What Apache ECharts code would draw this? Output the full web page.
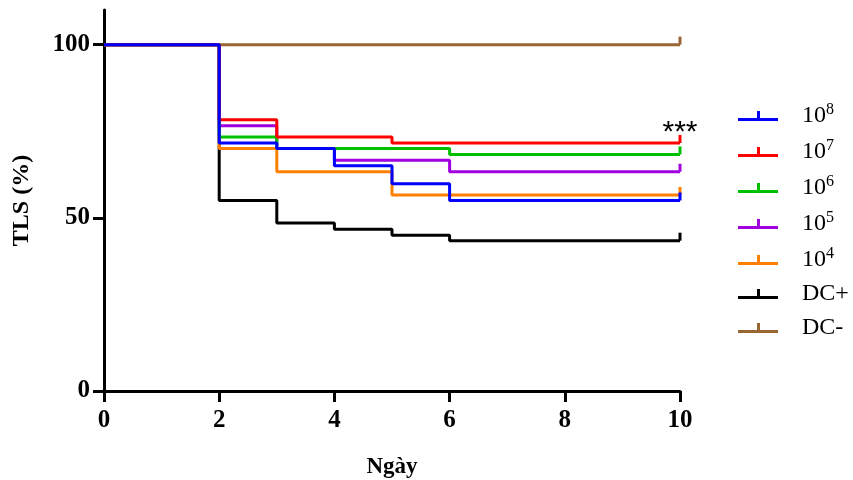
<!DOCTYPE html>
<html>
<head>
<meta charset="utf-8">
<script src="https://cdn.jsdelivr.net/npm/echarts@6/dist/echarts.min.js"></script>
<style>
  html, body { margin: 0; padding: 0; background: #fff; }
  #grafico { width: 853px; height: 480px; }
</style>
</head>
<body>
<div id="grafico"></div>
<script>
// ngay (x) va TLS (%) cua tung nhom
const nombres = ['10^8', '10^7', '10^6', '10^5', '10^4', 'DC+', 'DC-']
const colores = ['#0000ff', '#ff0000', '#00c000', '#a000dd', '#ff8000', '#000000', '#996633']

const x108 = [0, 2, 3, 4, 5, 6, 10]
const y108 = [100, 71.6, 70, 65, 59.8, 55, 55]
const x107 = [0, 2, 3, 5, 10]
const y107 = [100, 78.3, 73.3, 71.6, 71.6]
const x106 = [0, 2, 3, 6, 10]
const y106 = [100, 73.3, 70, 68.3, 68.3]
const x105 = [0, 2, 3, 4, 6, 10]
const y105 = [100, 76.6, 70, 66.6, 63.3, 63.3]
const x104 = [0, 2, 3, 5, 10]
const y104 = [100, 70, 63.3, 56.6, 56.6]
const xDCpos = [0, 2, 3, 4, 5, 6, 10]
const yDCpos = [100, 55, 48.5, 46.7, 45, 43.4, 43.4]
const xDCneg = [0, 10]
const yDCneg = [100, 100]

const xTicks = [0, 2, 4, 6, 8, 10]
const yTicks = [0, 50, 100]

const grupos = [
  [x108, y108], [x107, y107], [x106, y106], [x105, y105],
  [x104, y104], [xDCpos, yDCpos], [xDCneg, yDCneg]
]

// dibujar en orden: el primero (10^8) queda encima
const orden = [6, 5, 4, 3, 2, 1, 0]

const series = orden.map(i => {
  const xs = grupos[i][0]
  const ys = grupos[i][1]
  const data = xs.map((x, k) => {
    if (k === xs.length - 1) {
      return {
        value: [x, ys[k]],
        symbol: 'rect',
        symbolSize: [3, 8],
        symbolOffset: [0, -4]
      }
    }
    return { value: [x, ys[k]], symbol: 'none' }
  })
  const s = {
    name: nombres[i],
    type: 'line',
    step: 'end',
    data: data,
    showSymbol: true,
    symbol: 'none',
    color: colores[i],
    itemStyle: { color: colores[i] },
    lineStyle: { width: 3, color: colores[i] },
    animation: false,
    z: 10 - i
  }
  if (nombres[i] === '10^7') {
    s.markPoint = {
      symbol: 'circle',
      symbolSize: 0,
      data: [{ coord: [10, ys[ys.length - 1]] }],
      label: {
        show: true,
        formatter: '***',
        position: 'top',
        distance: -5,
        color: '#000',
        fontFamily: 'Liberation Sans',
        fontSize: 30
      }
    }
  }
  return s
})

const chart = echarts.init(document.getElementById('grafico'))

chart.setOption({
  animation: false,
  grid: { left: 104, right: 173, top: 10, bottom: 89, outerBoundsMode: 'none', containLabel: false },
  legend: {
    data: nombres,
    orient: 'vertical',
    left: 733,
    top: 97,
    itemWidth: 40,
    itemHeight: 10,
    itemGap: 10,
    icon: 'path://M0,7 L40,7 L40,10 L0,10 Z M19,0 L22,0 L22,7 L19,7 Z',
    formatter: n => {
      const p = n.split('^')
      return p.length > 1 ? '10{sup|' + p[1] + '}' : n
    },
    textStyle: {
      fontFamily: 'Liberation Serif',
      fontSize: 24,
      color: '#000',
      padding: [0, 0, 0, 19],
      rich: {
        sup: {
          fontFamily: 'Liberation Serif',
          fontSize: 16,
          color: '#000',
          verticalAlign: 'bottom',
          padding: [0, 0, 12, 0]
        }
      }
    }
  },
  xAxis: {
    type: 'value',
    min: 0,
    max: 10,
    interval: 2,
    name: 'Ngày',
    nameLocation: 'middle',
    nameGap: 65,
    nameTextStyle: {
      fontFamily: 'Liberation Serif',
      fontWeight: 'bold',
      fontSize: 23,
      color: '#000'
    },
    axisLine: { show: true, lineStyle: { color: '#000', width: 3 } },
    axisTick: { show: true, length: 11, lineStyle: { color: '#000', width: 3 } },
    axisLabel: {
      customValues: xTicks,
      margin: 17,
      fontFamily: 'Liberation Serif',
      fontWeight: 'bold',
      fontSize: 25,
      color: '#000'
    },
    splitLine: { show: false }
  },
  yAxis: {
    type: 'value',
    min: 0,
    max: 110,
    name: 'TLS (%)',
    nameLocation: 'middle',
    nameGap: 70,
    nameRotate: 90,
    nameTextStyle: {
      fontFamily: 'Liberation Serif',
      fontWeight: 'bold',
      fontSize: 24,
      color: '#000'
    },
    axisLine: { show: true, lineStyle: { color: '#000', width: 3 } },
    axisTick: { show: true, customValues: yTicks, length: 11, lineStyle: { color: '#000', width: 3 } },
    axisLabel: {
      customValues: yTicks,
      margin: 14,
      fontFamily: 'Liberation Serif',
      fontWeight: 'bold',
      fontSize: 25,
      color: '#000'
    },
    splitLine: { show: false }
  },
  series: series
})
</script>
</body>
</html>
